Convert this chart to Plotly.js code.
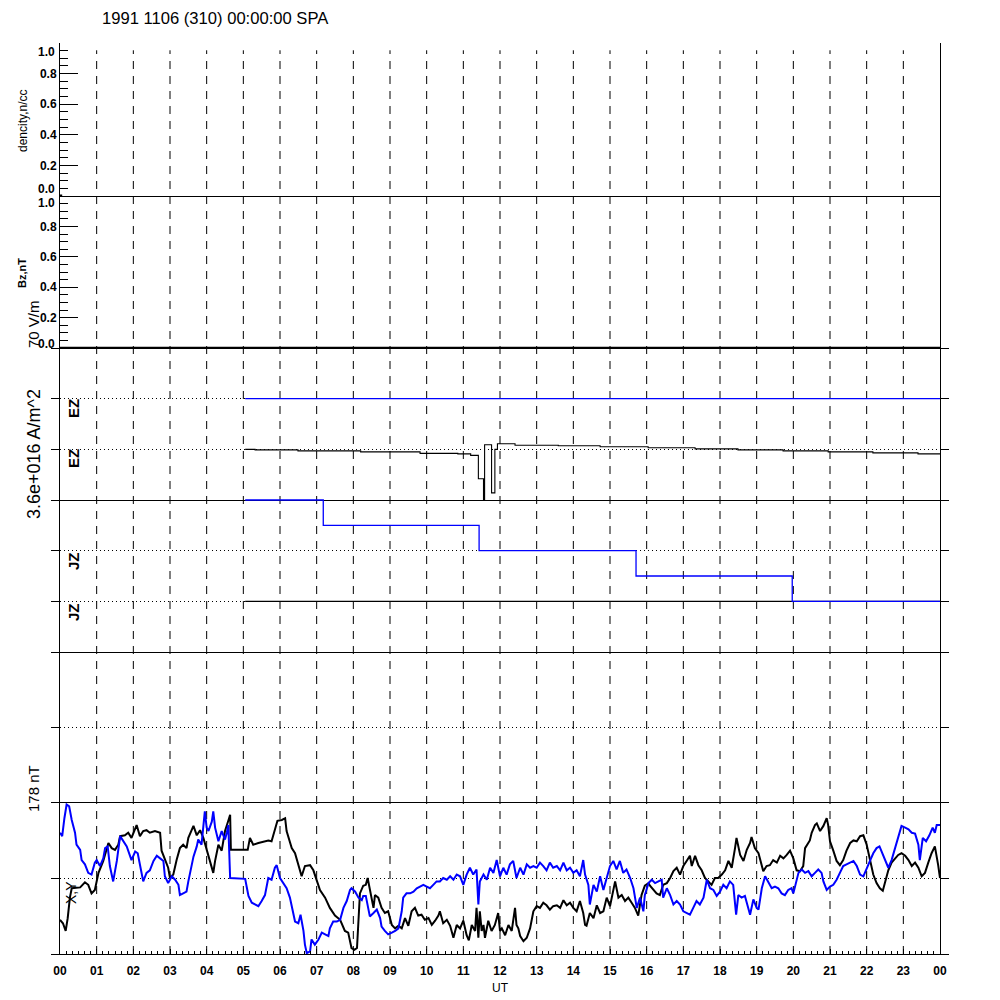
<!DOCTYPE html>
<html><head><meta charset="utf-8">
<script src="https://cdn.plot.ly/plotly-3.0.1.min.js"></script>
<style>html,body{margin:0;padding:0;background:#fff}#chart{width:1000px;height:1000px}</style>
</head><body><div id="chart"></div>
<script>
// ---------- data ----------
const hourTicks = [0,1,2,3,4,5,6,7,8,9,10,11,12,13,14,15,16,17,18,19,20,21,22,23,24];
const hourLabels = ["00","01","02","03","04","05","06","07","08","09","10","11","12","13","14","15","16","17","18","19","20","21","22","23","00"];
const gridHours = [1,2,3,4,5,6,7,8,9,10,11,12,13,14,15,16,17,18,19,20,21,22,23];
const unitTickVals = [0, 0.2, 0.4, 0.6, 0.8, 1.0];
const unitTickText = ["", "0.2", "0.4", "0.6", "0.8", ""];

const densityHours = [0, 0.06];
const densityValues = [0, 0];
const bzHours = [0, 24];
const bzValues = [0, 0];
const emptyHours = [];
const emptyValues = [];

// E/J panel values in plot divisions (center line = 0)
const ezBlueHours = [5.05, 24];
const ezBlueValues = [2, 2];
const ezBlackHours = [5.05,5.32,6.49,8.2,9.82,10.85,11.2,11.41,11.55,11.58,11.77,11.86,11.93,12.41,13.59,14.73,16.04,17.32,18.49,19.72,20.95,22.17,23.4,24];
const ezBlackValues = [1.00,0.99,0.97,0.95,0.92,0.91,0.88,0.42,0.0,1.09,0.14,1.0,1.11,1.08,1.07,1.05,1.03,1.01,0.99,0.97,0.95,0.93,0.91,0.91];
const jzBlueHours = [5.05, 7.18, 11.43, 15.71, 19.97, 24];
const jzBlueValues = [0, -0.5, -1, -1.5, -2, -2];
const jzBlackHours = [5.05, 24];
const jzBlackValues = [-2, -2];

// magnetometer X (black) and Y (blue), nT
const magXHours = [0,0.08,0.155,0.21,0.27,0.32,0.55,0.68,0.77,0.86,0.95,1.05,1.18,1.32,1.41,1.5,1.59,1.64,1.77,1.86,1.95,2.05,2.09,2.18,2.27,2.36,2.45,2.59,2.73,2.77,2.86,2.95,3.0,3.09,3.18,3.27,3.36,3.45,3.5,3.59,3.64,3.73,3.82,3.91,4.0,4.09,4.18,4.23,4.32,4.41,4.5,4.59,4.64,4.66,5.12,5.18,5.27,5.41,5.55,5.68,5.77,5.86,5.93,6.05,6.14,6.18,6.32,6.41,6.5,6.59,6.68,6.82,6.91,7.0,7.09,7.23,7.36,7.5,7.64,7.77,7.86,7.95,8.03,8.1,8.14,8.18,8.27,8.34,8.39,8.45,8.5,8.55,8.59,8.68,8.77,8.86,8.95,9.05,9.14,9.23,9.32,9.41,9.5,9.59,9.68,9.77,9.86,9.95,10.05,10.14,10.23,10.32,10.36,10.45,10.55,10.64,10.73,10.82,10.91,11.0,11.09,11.15,11.23,11.32,11.36,11.41,11.45,11.5,11.55,11.59,11.68,11.77,11.86,11.95,12.0,12.05,12.14,12.23,12.32,12.36,12.41,12.45,12.5,12.55,12.64,12.73,12.82,12.91,13.0,13.09,13.18,13.27,13.36,13.45,13.55,13.64,13.73,13.82,13.91,14.0,14.09,14.18,14.27,14.32,14.36,14.45,14.55,14.64,14.73,14.82,14.91,15.0,15.09,15.14,15.23,15.32,15.41,15.5,15.59,15.68,15.77,15.86,15.95,16.05,16.09,16.18,16.27,16.36,16.45,16.55,16.64,16.73,16.82,16.91,17.0,17.09,17.18,17.23,17.32,17.41,17.5,17.59,17.68,17.77,17.86,17.95,18.05,18.14,18.23,18.32,18.41,18.45,18.55,18.64,18.73,18.82,18.86,18.95,19.05,19.14,19.18,19.27,19.36,19.45,19.55,19.64,19.73,19.82,19.91,20.0,20.09,20.18,20.27,20.32,20.41,20.45,20.5,20.59,20.64,20.73,20.82,20.91,20.95,21.0,21.09,21.18,21.27,21.36,21.45,21.55,21.64,21.73,21.82,21.91,22.0,22.09,22.18,22.27,22.36,22.44,22.5,22.59,22.68,22.77,22.86,22.95,23.05,23.14,23.23,23.32,23.41,23.5,23.59,23.68,23.77,23.86,23.91,23.95,24.0];
const magXValues = [-49,-53,-62,-47,-23,-12,-11,-5,-8,-18,-14,6,20,41,35,33,39,49,50,53,47,59,62,49,55,56,53,55,53,32,23,12,0,4,21,35,39,35,47,55,61,50,56,47,33,20,6,20,39,32,55,67,74,33,33,47,39,41,43,44,43,55,67,68,70,55,35,29,15,2,14,15,9,-2,-14,-23,-35,-44,-49,-62,-64,-82,-84,-82,-43,-18,-9,-8,0,-12,-23,-35,-20,-23,-35,-41,-39,-55,-59,-56,-59,-47,-56,-39,-35,-44,-43,-49,-47,-55,-50,-44,-39,-53,-49,-56,-70,-55,-59,-50,-67,-73,-55,-62,-35,-70,-39,-62,-55,-70,-50,-62,-55,-41,-62,-59,-67,-55,-62,-47,-35,-55,-59,-68,-74,-70,-59,-39,-33,-35,-29,-32,-37,-33,-32,-35,-26,-32,-29,-35,-39,-27,-41,-55,-56,-41,-47,-32,-41,-39,-23,-33,-15,-4,-23,-20,-27,-23,-29,-35,-44,-20,-9,-6,-9,-14,-18,-20,-8,-6,0,8,12,4,14,20,26,14,26,15,9,0,-4,-8,0,0,4,9,20,12,35,47,27,20,33,41,48,35,29,15,8,14,15,21,18,26,23,27,32,23,9,8,14,35,41,44,53,62,64,55,61,70,62,43,32,20,15,21,32,41,44,43,49,50,39,23,4,-6,-12,-15,-4,9,18,23,27,29,26,21,14,18,12,2,6,18,29,37,26,15,0];

const magYHours = [0,0.06,0.12,0.18,0.25,0.32,0.41,0.45,0.55,0.59,0.68,0.77,0.86,0.95,1.0,1.09,1.18,1.23,1.3,1.36,1.45,1.55,1.64,1.73,1.82,1.91,1.95,2.05,2.12,2.21,2.27,2.36,2.45,2.55,2.64,2.73,2.82,2.86,2.95,3.05,3.14,3.23,3.27,3.36,3.45,3.5,3.59,3.64,3.73,3.77,3.86,3.91,3.95,4.0,4.05,4.14,4.18,4.23,4.32,4.41,4.5,4.55,4.59,4.64,5.05,5.09,5.14,5.23,5.32,5.41,5.5,5.59,5.68,5.77,5.86,5.91,6.0,6.09,6.18,6.27,6.36,6.41,6.5,6.56,6.64,6.68,6.73,6.82,6.86,6.95,7.05,7.14,7.23,7.32,7.36,7.45,7.55,7.64,7.73,7.82,7.91,7.95,8.05,8.14,8.23,8.27,8.34,8.41,8.45,8.55,8.64,8.73,8.77,8.86,8.95,9.05,9.14,9.23,9.32,9.36,9.45,9.55,9.64,9.73,9.82,9.91,10.0,10.09,10.18,10.27,10.36,10.45,10.55,10.64,10.73,10.82,10.91,11.0,11.09,11.18,11.27,11.36,11.41,11.45,11.55,11.64,11.73,11.82,11.91,12.0,12.09,12.18,12.27,12.36,12.45,12.55,12.64,12.73,12.82,12.91,13.0,13.09,13.18,13.27,13.36,13.45,13.55,13.64,13.73,13.82,13.91,14.0,14.09,14.18,14.27,14.32,14.41,14.45,14.55,14.64,14.73,14.82,14.91,15.0,15.09,15.18,15.27,15.36,15.45,15.55,15.64,15.73,15.82,15.91,15.95,16.05,16.14,16.23,16.32,16.41,16.45,16.55,16.64,16.73,16.82,16.91,17.0,17.09,17.18,17.27,17.36,17.45,17.55,17.64,17.73,17.82,17.91,18.0,18.09,18.18,18.27,18.36,18.44,18.5,18.59,18.68,18.77,18.82,18.91,19.0,19.05,19.14,19.23,19.32,19.41,19.5,19.59,19.68,19.77,19.86,19.95,20.0,20.05,20.14,20.23,20.32,20.41,20.5,20.59,20.68,20.77,20.82,20.91,21.0,21.09,21.18,21.27,21.36,21.45,21.55,21.64,21.73,21.82,21.91,22.0,22.09,22.18,22.27,22.35,22.41,22.5,22.59,22.68,22.77,22.86,22.95,23.05,23.14,23.23,23.32,23.41,23.45,23.53,23.62,23.71,23.8,23.86,23.91,24.0];
const magYValues = [53,49,70,86,84,68,53,39,33,21,16,6,4,18,21,14,23,35,37,14,-4,20,49,43,37,26,21,31,29,9,-4,6,9,20,26,23,20,2,-6,2,-2,-8,-20,-18,-16,-4,16,25,37,45,39,59,78,59,55,66,78,59,43,55,45,53,62,0,-1,-10,-21,-29,-31,-33,-27,-20,0,-2,12,15,0,-6,-12,-23,-39,-51,-53,-43,-62,-78,-88,-86,-72,-78,-72,-64,-66,-68,-59,-51,-51,-49,-35,-27,-14,-12,-16,-23,-26,-21,-21,-35,-45,-41,-37,-47,-57,-62,-66,-64,-62,-59,-39,-23,-18,-18,-16,-12,-10,-8,-10,-12,-8,-4,-4,0,-2,2,-2,4,2,-8,4,12,4,10,-31,-4,4,-2,12,6,21,2,12,4,16,20,0,12,4,16,12,14,12,18,14,9,18,12,14,9,18,9,12,6,9,2,21,4,-8,-31,-8,-16,2,-14,0,14,20,10,20,6,10,0,-12,-35,-23,-39,-20,-6,-2,-6,-4,-2,-23,-12,-20,-31,-27,-31,-39,-41,-43,-35,-27,-31,-23,-2,-12,-14,-21,-16,-8,-12,-4,-8,-43,-20,-23,-21,-35,-43,-25,-35,-37,-12,2,-6,-12,-10,-12,-18,-20,-14,-12,-18,-8,6,10,6,8,2,6,10,6,-4,-14,-10,-8,-2,6,14,16,18,20,14,4,2,10,20,29,35,37,31,20,12,21,35,47,61,59,57,53,52,39,21,47,43,50,59,53,62,62];

// ---------- layout helpers ----------
const TOP = 43, BOT = 954, LEFT = 60, RIGHT = 940;
const H = BOT - TOP, W = RIGHT - LEFT;
const dom = (y0, y1) => [(BOT - y1) / H, (BOT - y0) / H];
const px = x => (x - LEFT) / W;
const py = y => (BOT - y) / H;
const FONT = "Liberation Sans, Arial, sans-serif";
const BLUE = "#0000ff";

const traces = [
  {x: magXHours, y: magXValues, xaxis: "x", yaxis: "y", mode: "lines", line: {color: "#000", width: 2}},
  {x: magYHours, y: magYValues, xaxis: "x", yaxis: "y", mode: "lines", line: {color: BLUE, width: 2}},
  {x: emptyHours, y: emptyValues, xaxis: "x2", yaxis: "y2", mode: "lines", line: {color: "#000", width: 1}},
  {x: jzBlackHours, y: jzBlackValues, xaxis: "x3", yaxis: "y3", mode: "lines", line: {color: "#000", width: 1.3}},
  {x: ezBlueHours, y: ezBlueValues, xaxis: "x3", yaxis: "y3", mode: "lines", line: {color: BLUE, width: 1.3}},
  {x: ezBlackHours, y: ezBlackValues, xaxis: "x3", yaxis: "y3", mode: "lines", line: {color: "#000", width: 1.1, shape: "hv"}},
  {x: jzBlueHours, y: jzBlueValues, xaxis: "x3", yaxis: "y3", mode: "lines", line: {color: BLUE, width: 1.3, shape: "hv"}},
  {x: bzHours, y: bzValues, xaxis: "x4", yaxis: "y4", mode: "lines", line: {color: "#000", width: 2.5}},
  {x: densityHours, y: densityValues, xaxis: "x5", yaxis: "y5", mode: "lines", line: {color: "#000", width: 3}}
];

const baseX = {
  range: [0, 24], showline: true, linecolor: "#000", linewidth: 1, mirror: false,
  showgrid: false, zeroline: false, fixedrange: true
};
const xAxes = {
  xaxis: Object.assign({}, baseX, {
    anchor: "y", tickmode: "array", tickvals: hourTicks, ticktext: hourLabels,
    ticks: "inside", ticklen: 5, tickcolor: "#000", ticklabelstandoff: 6,
    minor: {dtick: 1/6, tick0: 0, ticks: "inside", ticklen: 3, tickcolor: "#000"},
    tickfont: {family: FONT, size: 12, color: "#000", weight: "bold"},
    title: {text: "UT", font: {family: FONT, size: 12, color: "#000"}, standoff: 6}
  }),
  xaxis2: Object.assign({}, baseX, {anchor: "y2", matches: "x", showticklabels: false, ticks: ""}),
  xaxis3: Object.assign({}, baseX, {anchor: "y3", matches: "x", showticklabels: false, ticks: ""}),
  xaxis4: Object.assign({}, baseX, {anchor: "y4", matches: "x", showticklabels: false, ticks: ""}),
  xaxis5: Object.assign({}, baseX, {anchor: "y5", matches: "x", showticklabels: false, ticks: ""})
};

const outsideY = (domain, range, vals, zero) => ({
  domain: domain, range: range,
  tickmode: "array", tickvals: vals, showticklabels: false,
  ticks: "outside", ticklen: 8, tickcolor: "#000", mirror: "ticks",
  showline: true, linecolor: "#000", linewidth: 1,
  showgrid: true, gridcolor: "#000", gridwidth: 1, griddash: "1px,3px",
  zeroline: !!zero, zerolinecolor: "#000", zerolinewidth: 1, fixedrange: true
});
const innerY = (domain) => ({
  domain: domain, range: [0, 1], tickmode: "array", tickvals: unitTickVals, ticktext: unitTickText,
  ticks: "inside", ticklen: 18, tickcolor: "#000",
  minor: {dtick: 0.05, tick0: 0, ticks: "inside", ticklen: 8, tickcolor: "#000"},
  tickfont: {family: FONT, size: 12, color: "#000", weight: "bold"},
  showline: true, linecolor: "#000", linewidth: 1, mirror: true,
  showgrid: false, zeroline: false, fixedrange: true
});

const yaxis = Object.assign(outsideY(dom(802, 954), [-89, 89], [-89, 0, 89], false), {anchor: "x"});
const yaxis2 = Object.assign(outsideY(dom(652, 802), [-1, 1], [-1, 0, 1], false), {anchor: "x2"});
const yaxis3 = Object.assign(outsideY(dom(348, 652), [-3, 3], [-3, -2, -1, 0, 1, 2, 3], true), {anchor: "x3"});
const yaxis4 = Object.assign(innerY(dom(196, 348)), {anchor: "x4"});
const yaxis5 = Object.assign(innerY(dom(43, 196)), {anchor: "x5"});

const shapes = gridHours.map(h => ({
  type: "line", xref: "x", yref: "paper", x0: h, x1: h, y0: 0, y1: 0.992,
  line: {color: "#000", width: 1, dash: "8px,7px"}, layer: "below"
}));

const ann = (text, x, y, size, extra) => Object.assign({
  text: text, xref: "paper", yref: "paper", x: px(x), y: py(y),
  xanchor: "center", yanchor: "middle", showarrow: false, textangle: -90,
  font: {family: FONT, size: size, color: "#000"}
}, extra || {});
const endLabel = (text, y) => ({
  text: text, xref: "paper", yref: "paper", x: px(57), y: py(y),
  xanchor: "right", yanchor: "middle", showarrow: false,
  font: {family: FONT, size: 12, color: "#000", weight: "bold"}
});

const annotations = [
  ann("dencity,n/cc", 23, 121, 12),
  ann("Bz,nT", 22, 273, 11, {font: {family: FONT, size: 11, color: "#000", weight: "bold"}}),
  ann("70 V/m", 33, 324, 15),
  ann("3.6e+016 A/m^2", 34, 454, 18),
  ann("EZ", 73, 409, 15, {font: {family: FONT, size: 15, color: "#000", weight: "bold"}}),
  ann("EZ", 73, 459, 15, {font: {family: FONT, size: 15, color: "#000", weight: "bold"}}),
  ann("JZ", 73, 561, 15, {font: {family: FONT, size: 15, color: "#000", weight: "bold"}}),
  ann("JZ", 73, 612, 15, {font: {family: FONT, size: 15, color: "#000", weight: "bold"}}),
  ann("178 nT", 33, 789, 15),
  ann("X,Y", 71, 893, 14),
  endLabel("1.0", 52), endLabel("0.0", 189),
  endLabel("1.0", 203), endLabel("0.0", 344)
];

const layout = {
  width: 1000, height: 1000,
  margin: {l: LEFT, r: 1000 - RIGHT, t: TOP, b: 1000 - BOT, pad: 0},
  paper_bgcolor: "#fff", plot_bgcolor: "rgba(0,0,0,0)",
  showlegend: false,
  title: {text: "1991 1106 (310) 00:00:00 SPA", x: 0.102, xref: "container", xanchor: "left",
          y: 0.982, yref: "container", yanchor: "middle",
          font: {family: FONT, size: 16.6, color: "#000"}},
  xaxis: xAxes.xaxis, xaxis2: xAxes.xaxis2, xaxis3: xAxes.xaxis3, xaxis4: xAxes.xaxis4, xaxis5: xAxes.xaxis5,
  yaxis: yaxis, yaxis2: yaxis2, yaxis3: yaxis3, yaxis4: yaxis4, yaxis5: yaxis5,
  shapes: shapes, annotations: annotations
};

Plotly.newPlot("chart", traces, layout, {staticPlot: true, displayModeBar: false});
</script>
</body></html>
